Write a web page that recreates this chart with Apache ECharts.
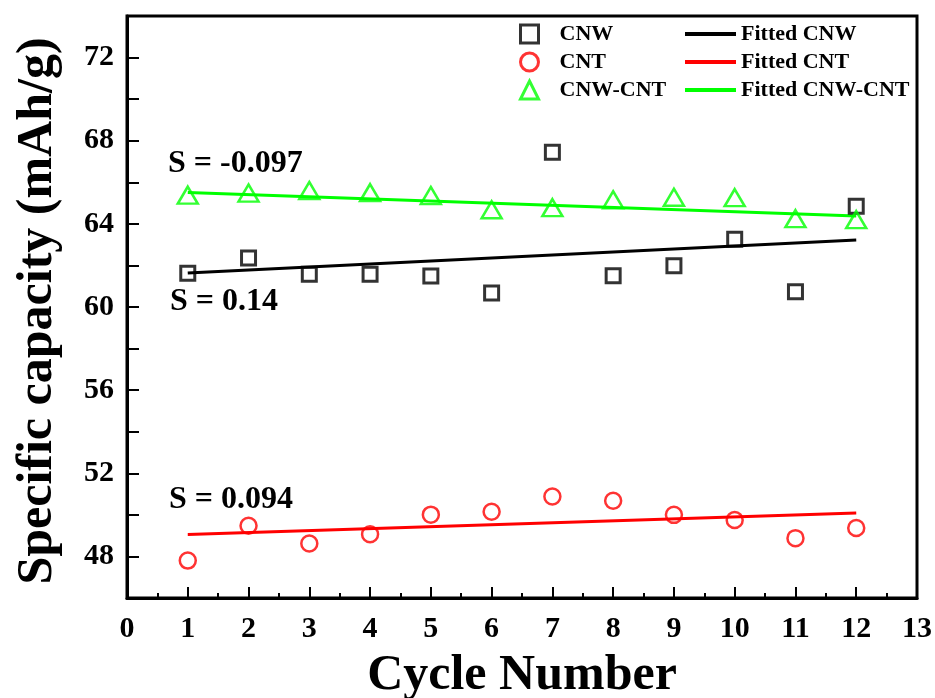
<!DOCTYPE html>
<html>
<head>
<meta charset="utf-8">
<script src="https://cdn.jsdelivr.net/npm/echarts@6/dist/echarts.min.js"></script>
<style>
html,body{margin:0;padding:0;background:#fff;}
#chart{width:935px;height:698px;}
</style>
</head>
<body>
<div id="chart"></div>
<script>
// Data
const cycles = [1, 2, 3, 4, 5, 6, 7, 8, 9, 10, 11, 12];
const cnw = [61.62, 62.36, 61.58, 61.58, 61.49, 60.67, 67.45, 61.5, 61.98, 63.26, 60.73, 64.85];
const cnt = [47.8, 49.48, 48.62, 49.07, 50.01, 50.15, 50.88, 50.68, 50.0, 49.75, 48.88, 49.37];
const cnwCnt = [65.38, 65.48, 65.6, 65.5, 65.36, 64.68, 64.78, 65.16, 65.28, 65.26, 64.25, 64.2];
// Fitted line end points (x = 1 and x = 12)
const fitX = [1, 12];
const fitCnw = [61.63, 63.22];
const fitCnt = [49.05, 50.09];
const fitCnwCnt = [65.51, 64.38];
const slopeLabels = ['S = -0.097', 'S = 0.14', 'S = 0.094'];

const FONT = '"Liberation Serif", "Times New Roman", serif';
const pair = (xs, ys) => xs.map((x, i) => [x, ys[i]]);

const chart = echarts.init(document.getElementById('chart'), null, {renderer: 'canvas'});
chart.setOption({
  animation: false,
  backgroundColor: '#fff',
  grid: {left: 127, right: 18, top: 16, bottom: 100, show: true, borderColor: '#000', borderWidth: 3,
    backgroundColor: 'transparent', containLabel: false, outerBoundsMode: 'none'},
  xAxis: {
    type: 'value', min: 0, max: 13, interval: 1,
    name: 'Cycle Number', nameLocation: 'middle', nameGap: 53,
    nameTextStyle: {fontFamily: FONT, fontWeight: 'bold', fontSize: 50, color: '#000'},
    axisLine: {lineStyle: {color: '#000', width: 3}},
    axisTick: {inside: true, length: 11, lineStyle: {color: '#000', width: 2}},
    minorTick: {show: true, splitNumber: 2, length: 5, lineStyle: {color: '#000', width: 2}},
    splitLine: {show: false},
    axisLabel: {fontFamily: FONT, fontWeight: 'bold', fontSize: 30, color: '#000', margin: 16}
  },
  yAxis: {
    type: 'value', min: 46, max: 74, interval: 2,
    name: 'Specific capacity (mAh/g)', nameLocation: 'middle', nameGap: 64,
    nameTextStyle: {fontFamily: FONT, fontWeight: 'bold', fontSize: 50, color: '#000', padding: [0, 8, 0, 0]},
    axisLine: {lineStyle: {color: '#000', width: 3}},
    axisTick: {inside: true, length: 12, lineStyle: {color: '#000', width: 2}},
    splitLine: {show: false},
    axisLabel: {fontFamily: FONT, fontWeight: 'bold', fontSize: 30, color: '#000', margin: 13,
      formatter: v => (v % 4 === 0 && v >= 48 && v <= 72) ? String(v) : ''}
  },
  legend: [
    {
      data: ['CNW', 'CNT', 'CNW-CNT'], orient: 'vertical', left: 514, top: 18,
      itemWidth: 18, itemHeight: 18, itemGap: 6,
      itemStyle: {borderWidth: 3},
      textStyle: {fontFamily: FONT, fontWeight: 'bold', fontSize: 22, color: '#000', lineHeight: 22, padding: [0, 0, 0, 16]}
    },
    {
      data: [{name: 'Fitted CNW', icon: 'rect'}, {name: 'Fitted CNT', icon: 'rect'}, {name: 'Fitted CNW-CNT', icon: 'rect'}],
      orient: 'vertical', left: 680, top: 18,
      itemWidth: 51, itemHeight: 4, itemGap: 6,
      textStyle: {fontFamily: FONT, fontWeight: 'bold', fontSize: 22, color: '#000', lineHeight: 22}
    }
  ],
  graphic: [
    {type: 'text', x: 168, y: 164, style: {text: slopeLabels[0], font: 'bold 32px ' + FONT, fill: '#000', verticalAlign: 'middle'}},
    {type: 'text', x: 170, y: 302, style: {text: slopeLabels[1], font: 'bold 32px ' + FONT, fill: '#000', verticalAlign: 'middle'}},
    {type: 'text', x: 169, y: 500, style: {text: slopeLabels[2], font: 'bold 32px ' + FONT, fill: '#000', verticalAlign: 'middle'}}
  ],
  series: [
    {name: 'Fitted CNW', type: 'line', data: pair(fitX, fitCnw), symbol: 'none', lineStyle: {color: '#000', width: 3}, itemStyle: {color: '#000'}, z: 2},
    {name: 'Fitted CNT', type: 'line', data: pair(fitX, fitCnt), symbol: 'none', lineStyle: {color: '#ff0000', width: 3}, itemStyle: {color: '#ff0000'}, z: 2},
    {name: 'Fitted CNW-CNT', type: 'line', data: pair(fitX, fitCnwCnt), symbol: 'none', lineStyle: {color: '#00ff00', width: 3}, itemStyle: {color: '#00ff00'}, z: 2},
    {name: 'CNW', type: 'scatter', data: pair(cycles, cnw), symbol: 'rect', symbolSize: 14,
      itemStyle: {color: 'rgba(0,0,0,0)', borderColor: '#000', borderWidth: 3}, z: 3},
    {name: 'CNT', type: 'scatter', data: pair(cycles, cnt), symbol: 'circle', symbolSize: 16,
      itemStyle: {color: 'rgba(0,0,0,0)', borderColor: '#ff0000', borderWidth: 2.5}, z: 3},
    {name: 'CNW-CNT', type: 'scatter', data: pair(cycles, cnwCnt), symbol: 'triangle', symbolSize: [20, 17],
      itemStyle: {color: 'rgba(0,0,0,0)', borderColor: '#00ff00', borderWidth: 2.5}, z: 3}
  ]
});
</script>
</body>
</html>
